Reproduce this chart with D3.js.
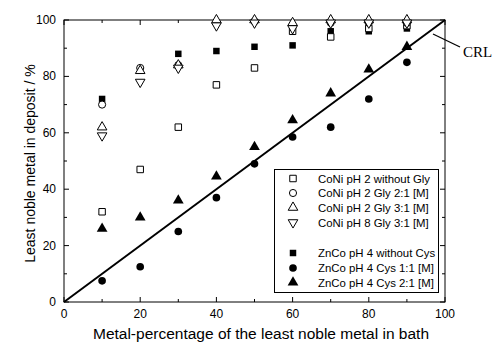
<!DOCTYPE html>
<html>
<head>
<meta charset="utf-8">
<script src="https://cdn.jsdelivr.net/npm/d3@7"></script>
<style>
  body { margin: 0; background: #fff; }
  text { font-family: "Liberation Sans", Arial, sans-serif; fill: #000; }
</style>
</head>
<body>
<svg id="chart" width="494" height="343"></svg>
<script>
// bath percentage of the least noble metal
const bathPct = [10, 20, 30, 40, 50, 60, 70, 80, 90];

const coNiNoGly  = [32, 47, 62, 77, 83, 96, 94, 97, 98];
const coNiGly21  = [70, 83, 84, 99, 99.5, 98, 99, 99, 99];
const coNiGly31  = [62, 82, 84, 100, 100, 99, 100, 100, 100];
const coNiPh8    = [59, 78, 83, 98, 99, 97, 99, 99, 99];
const znCoNoCys  = [72, null, 88, 89, 90.5, 91, 96, 96, 97];
const znCoCys11  = [7.5, 12.5, 25, 37, 49, 58.5, 62, 72, 85];
const znCoCys21  = [26, 30, 36, 44.5, 55, 64.5, 74, 82.5, 90.5];

const tickVals = [0, 20, 40, 60, 80, 100];
const minorVals = [10, 30, 50, 70, 90];

const seriesNames = [
  "CoNi pH 2 without Gly", "CoNi pH 2 Gly 2:1 [M]", "CoNi pH 2 Gly 3:1 [M]",
  "CoNi pH 8 Gly 3:1 [M]", "ZnCo pH 4 without Cys", "ZnCo pH 4 Cys 1:1 [M]",
  "ZnCo pH 4 Cys 2:1 [M]"
];

const svg = d3.select("#chart");

const x = d3.scaleLinear().domain([0, 100]).range([64, 445]);
const y = d3.scaleLinear().domain([0, 100]).range([302, 20]);

// marker definitions: shape, filled?, rotation
const markers = [
  { type: d3.symbolSquare, size: 42, fill: false, rot: 0 },
  { type: d3.symbolCircle, size: 40, fill: false, rot: 0 },
  { type: d3.symbolTriangle, size: 40, fill: false, rot: 0 },
  { type: d3.symbolTriangle, size: 40, fill: false, rot: 180 },
  { type: d3.symbolSquare, size: 42, fill: true, rot: 0 },
  { type: d3.symbolCircle, size: 46, fill: true, rot: 0 },
  { type: d3.symbolTriangle, size: 50, fill: true, rot: 0 }
];
const allSeries = [coNiNoGly, coNiGly21, coNiGly31, coNiPh8, znCoNoCys, znCoCys11, znCoCys21];

// frame
svg.append("rect")
  .attr("x", x(0)).attr("y", y(100))
  .attr("width", x(100) - x(0)).attr("height", y(0) - y(100))
  .attr("fill", "none").attr("stroke", "#000").attr("stroke-width", 1);

// inward ticks on all four sides
const tickG = svg.append("g").attr("stroke", "#000").attr("stroke-width", 1);
function ticks(vals, len) {
  vals.forEach(v => {
    tickG.append("line").attr("x1", x(v)).attr("x2", x(v)).attr("y1", y(0)).attr("y2", y(0) - len);
    tickG.append("line").attr("x1", x(v)).attr("x2", x(v)).attr("y1", y(100)).attr("y2", y(100) + len);
    tickG.append("line").attr("y1", y(v)).attr("y2", y(v)).attr("x1", x(0)).attr("x2", x(0) + len);
    tickG.append("line").attr("y1", y(v)).attr("y2", y(v)).attr("x1", x(100)).attr("x2", x(100) - len);
  });
}
ticks(tickVals, 5);
ticks(minorVals, 3);

// tick labels
svg.append("g").selectAll("text").data(tickVals).enter().append("text")
  .attr("x", d => x(d)).attr("y", 318)
  .attr("text-anchor", "middle").style("font-size", "12px")
  .text(d => d);
svg.append("g").selectAll("text").data(tickVals).enter().append("text")
  .attr("x", 56).attr("y", d => y(d) + 4)
  .attr("text-anchor", "end").style("font-size", "12px")
  .text(d => d);

// axis titles
svg.append("text")
  .attr("x", 261).attr("y", 339)
  .attr("text-anchor", "middle").style("font-size", "15.5px")
  .text("Metal-percentage of the least noble metal in bath");
svg.append("text")
  .attr("transform", "translate(34.5," + 163.5 + ") rotate(-90)")
  .attr("text-anchor", "middle").style("font-size", "14px")
  .text("Least noble metal in deposit / %");

// CRL line
svg.append("line")
  .attr("x1", x(0)).attr("y1", y(0)).attr("x2", x(100)).attr("y2", y(100))
  .attr("stroke", "#000").attr("stroke-width", 2);
svg.append("line")
  .attr("x1", 433).attr("y1", 34).attr("x2", 460).attr("y2", 47)
  .attr("stroke", "#000").attr("stroke-width", 1.3);
svg.append("text")
  .attr("x", 463).attr("y", 57)
  .style("font-family", "'Liberation Serif', 'Times New Roman', serif")
  .style("font-size", "15px")
  .text("CRL");

// points: ZnCo first, CoNi on top
const drawOrder = [4, 5, 6, 0, 1, 2, 3];
const pts = svg.append("g");
drawOrder.forEach(i => {
  const m = markers[i];
  const sym = d3.symbol().type(m.type).size(m.size);
  pts.append("g").selectAll("path")
    .data(bathPct.map((b, j) => ({ b: b, v: allSeries[i][j] })).filter(d => d.v != null))
    .enter().append("path")
    .attr("d", sym)
    .attr("transform", d => `translate(${x(d.b)},${y(d.v)}) rotate(${m.rot})`)
    .attr("fill", m.fill ? "#000" : "#fff")
    .attr("stroke", "#000")
    .attr("stroke-width", m.fill ? 0 : 1);
});

// legend
const legend = svg.append("g");
legend.append("rect")
  .attr("x", 274.5).attr("y", 169.5).attr("width", 164).attr("height", 123)
  .attr("fill", "#fff").attr("stroke", "#000").attr("stroke-width", 1);
const rowY = [178.5, 193, 207.5, 222.5, 253, 268, 282.5];
seriesNames.forEach((name, i) => {
  const m = markers[i];
  legend.append("path")
    .attr("d", d3.symbol().type(m.type).size(m.size)())
    .attr("transform", `translate(293,${rowY[i]}) rotate(${m.rot})`)
    .attr("fill", m.fill ? "#000" : "#fff")
    .attr("stroke", "#000")
    .attr("stroke-width", m.fill ? 0 : 1);
  legend.append("text")
    .attr("x", 318).attr("y", rowY[i] + 4)
    .style("font-size", "11.4px")
    .text(name);
});
</script>
</body>
</html>
